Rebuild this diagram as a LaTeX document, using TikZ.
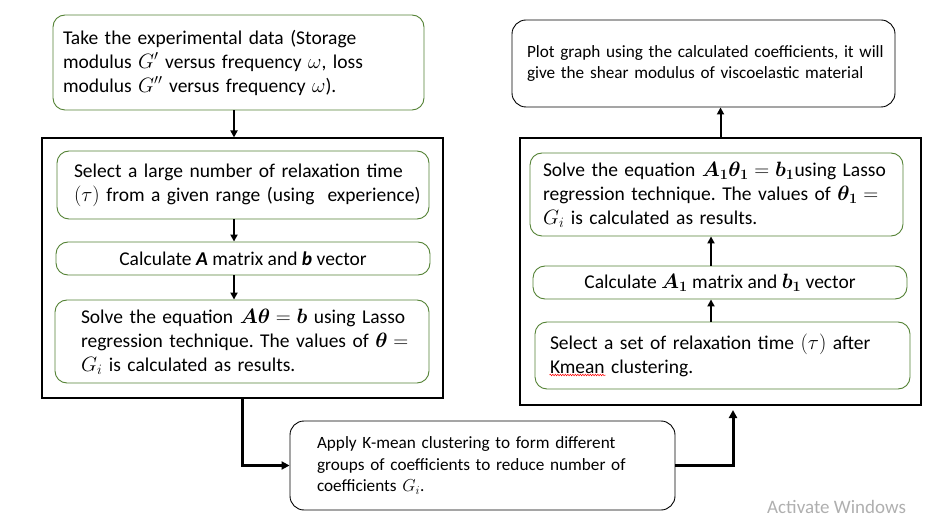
\documentclass[tikz,border=0pt]{standalone}
\usepackage{fontspec}
\setmainfont{Carlito}
\usepackage{amsmath,bm}
\usetikzlibrary{arrows.meta,decorations.pathmorphing,calc}
\frenchspacing
\definecolor{gborder}{RGB}{84,130,53}
\definecolor{wmark}{RGB}{175,175,175}
\tikzset{
  gbox/.style={draw=gborder, rounded corners=12pt, line width=0.9pt, fill=white, inner sep=0pt, align=left, font=\fontsize{19.5}{24}\selectfont},
  kbox/.style={draw=black, rounded corners=14pt, line width=0.9pt, fill=white, inner sep=0pt, align=left, font=\fontsize{17.2}{21.5}\selectfont},
  frame/.style={draw=black, line width=1.1pt, inner sep=0pt},
  arr/.style={-{Triangle[length=7pt,width=7pt]}, line width=2pt},
  bigarr/.style={-{Triangle[length=8pt,width=8pt]}, line width=3pt},
}
\begin{document}
\begin{tikzpicture}[x=1pt,y=-1pt]
\useasboundingbox (0,0) rectangle (947,526);
% frames
\node[frame, minimum width=401, minimum height=260] (L) at (242.5,268) {};
\node[frame, minimum width=401, minimum height=267] (R) at (720.5,271.5) {};
% left column
\node[gbox, minimum width=371, minimum height=95, text width=351] (b1) at (238.5,62.5)
 {\mbox{Take the experimental data (Storage}\\ \mbox{modulus $G'$ versus frequency $\omega$, loss}\\ \mbox{modulus $G''$ versus frequency $\omega$).}};
\node[gbox, minimum width=372, minimum height=68, text width=338] (sel) at (243,185)
 {\mbox{Select a large number of relaxation time}\\ \mbox{$(\tau)$ from a given range (using\ \ experience)}};
\node[gbox, minimum width=374, minimum height=33, align=center] (calc) at (243,258.5)
 {Calculate \textbf{\textit{A}} matrix and \textbf{\textit{b}} vector};
\node[gbox, minimum width=374, minimum height=83, text width=322] (solve) at (242,341.5)
 {\mbox{Solve the equation $\bm{A\theta}=\bm{b}$ using Lasso}\\ \mbox{regression technique. The values of $\bm{\theta}=$}\\ \mbox{$G_i$ is calculated as results.}};
% bottom middle
\node[kbox, minimum width=385, minimum height=89, text width=331] (km) at (482.5,465.5)
 {\mbox{Apply K-mean clustering to form different}\\ \mbox{groups of coefficients to reduce number of}\\ \mbox{coefficients $G_i$.}};
% right column
\node[kbox, minimum width=383, minimum height=87, text width=353] (plot) at (703.5,63.5)
 {\mbox{Plot graph using the calculated coefficients, it will}\\ \mbox{give the shear modulus of viscoelastic material}\\[2pt]};
\node[gbox, minimum width=373, minimum height=83, text width=347] (solve1) at (716.5,194.5)
 {\mbox{Solve the equation $\bm{A_1\theta_1}=\bm{b_1}$using Lasso}\\ \mbox{regression technique. The values of $\bm{\theta_1}=$}\\ \mbox{$G_i$ is calculated as results.}};
\node[gbox, minimum width=374, minimum height=33, align=center] (calc1) at (720,282.5)
 {Calculate $\bm{A_1}$ matrix and $\bm{b_1}$ vector};
\node[gbox, minimum width=375, minimum height=67, text width=345] (sset) at (722.5,355.5)
 {\mbox{Select a set of relaxation time $(\tau)$ after}\\ \mbox{Kmean clustering.}};
% spell-check squiggle
\draw[red, line width=0.5pt, decorate, decoration={snake, amplitude=0.8pt, segment length=2.5pt}]
 ($(sset.west)+(15,19.5)$) -- ($(sset.west)+(71,19.5)$);
% helper coordinates
\coordinate (cl) at (234,0);
\coordinate (cr) at (711,0);
\coordinate (rin) at (733,410);
% arrows
\draw[arr] (b1.south -| cl) -- (L.north -| cl);
\draw[arr] (sel.south -| cl) -- (calc.north -| cl);
\draw[arr] (calc.south -| cl) -- (solve.north -| cl);
\draw[arr] (sset.north -| cr) -- (calc1.south -| cr);
\draw[arr] (calc1.north -| cr) -- (solve1.south -| cr);
\draw[arr] (R.north) -- (R.north |- plot.south);
\draw[bigarr] (L.south) |- (km.west);
\draw[bigarr] (km.east) -| (rin);
% watermark
\node[text=wmark, font=\fontsize{19}{22}\selectfont, anchor=west, inner sep=0pt] (wm) at (767,507) {Activate Windows};
\end{tikzpicture}
\end{document}
